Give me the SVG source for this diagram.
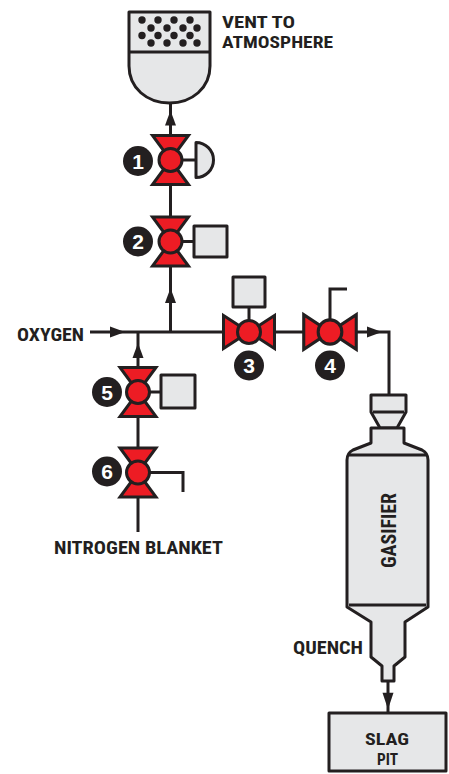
<svg xmlns="http://www.w3.org/2000/svg" xmlns:xlink="http://www.w3.org/1999/xlink" width="449" height="774" viewBox="0 0 449 774">
<style>
.pipe{fill:none;stroke:#231f20;stroke-width:3;stroke-linecap:butt;stroke-linejoin:miter}
.body{fill:#e6e7e8;stroke:#231f20;stroke-width:3;stroke-linejoin:round}
.red{fill:#ed1c24;stroke:#231f20;stroke-width:3;stroke-linejoin:miter}
.arr{fill:#231f20;stroke:none}
.lbl{font-family:"Liberation Sans Narrow","Roboto Condensed","DejaVu Sans Condensed","Liberation Sans",sans-serif;font-weight:bold;font-size:19px;fill:#231f20}
.stk{font-size:17px}
.badge{fill:#231f20}
.num{font-family:"Liberation Sans","DejaVu Sans",sans-serif;font-weight:bold;font-size:21px;fill:#ffffff;text-anchor:middle}
.dot{fill:#231f20}
</style>
<defs>
<g id="vvalve">
<path class="red" d="M-18,-24.5 H18 L0,0 Z"/>
<path class="red" d="M-18,24.5 H18 L0,0 Z"/>
<circle class="red" cx="0" cy="0" r="11.5"/>
</g>
<g id="hvalve">
<path class="red" d="M-25.5,-16.5 V16.5 L0,0 Z"/>
<path class="red" d="M25.5,-16.5 V16.5 L0,0 Z"/>
<circle class="red" cx="0" cy="0" r="11.5"/>
</g>
<path id="ah" d="M7.5,0 L-7.5,-5.5 L-7.5,5.5 Z"/>
</defs>
<rect width="449" height="774" fill="#ffffff"/>

<g id="connectors">
<path class="pipe" d="M170.5,103 V136"/>
<path class="pipe" d="M170.5,184 V218"/>
<path class="pipe" d="M170.5,265 V332"/>
<path class="pipe" d="M90,332 H224"/>
<path class="pipe" d="M274,332 H304"/>
<path class="pipe" d="M356,332 H389 V395"/>
<path class="pipe" d="M138,332 V368"/>
<path class="pipe" d="M138,416 V448"/>
<path class="pipe" d="M138,497 V532"/>
<path class="pipe" d="M388,681 V713"/>
<use xlink:href="#ah" class="arr" transform="translate(170.5,118) rotate(-90)"/>
<use xlink:href="#ah" class="arr" transform="translate(170.5,295.5) rotate(-90)"/>
<use xlink:href="#ah" class="arr" transform="translate(117.5,332)"/>
<use xlink:href="#ah" class="arr" transform="translate(138,350.5) rotate(-90)"/>
<use xlink:href="#ah" class="arr" transform="translate(374.5,332)"/>
<use xlink:href="#ah" class="arr" transform="translate(388,701) rotate(90) scale(1.1,1)"/>
</g>

<g id="vent">
<path class="body" d="M129,12 H210 V66 C210,88 192,103 169.5,103 C147,103 129,88 129,66 Z"/>
<path class="pipe" d="M129,52 H210"/>
<g class="dot">
<circle cx="142" cy="20" r="3.7"/><circle cx="158" cy="20" r="3.7"/><circle cx="174" cy="20" r="3.7"/><circle cx="190" cy="20" r="3.7"/>
<circle cx="151" cy="28" r="3.7"/><circle cx="167" cy="28" r="3.7"/><circle cx="183" cy="28" r="3.7"/><circle cx="197" cy="28" r="3.7"/>
<circle cx="142" cy="35.5" r="3.7"/><circle cx="158" cy="35.5" r="3.7"/><circle cx="174" cy="35.5" r="3.7"/><circle cx="190" cy="35.5" r="3.7"/>
<circle cx="151" cy="43" r="3.7"/><circle cx="167" cy="43" r="3.7"/><circle cx="183" cy="43" r="3.7"/><circle cx="197" cy="43" r="3.7"/>
</g>
<text class="lbl stk" x="222" y="28" textLength="73" lengthAdjust="spacingAndGlyphs">VENT TO</text>
<text class="lbl stk" x="222" y="48" textLength="111" lengthAdjust="spacingAndGlyphs">ATMOSPHERE</text>
</g>

<g id="valve1">
<path class="pipe" d="M182,160 H196"/>
<path class="body" d="M196,142.5 A17.5,17.5 0 0 1 196,177.5 Z"/>
<use xlink:href="#vvalve" transform="translate(170.5,160)"/>
<circle class="badge" cx="138" cy="161" r="15"/>
<text class="num" x="138" y="168.5">1</text>
</g>

<g id="valve2">
<path class="pipe" d="M182,241.5 H194"/>
<rect class="body" x="194" y="226" width="33" height="31" stroke-linejoin="miter"/>
<use xlink:href="#vvalve" transform="translate(170.5,241.5)"/>
<circle class="badge" cx="138" cy="241.5" r="15"/>
<text class="num" x="138" y="249">2</text>
</g>

<g id="valve3">
<path class="pipe" d="M249,307 V321"/>
<rect class="body" x="233" y="277" width="32" height="30" stroke-linejoin="miter"/>
<use xlink:href="#hvalve" transform="translate(249,332)"/>
<circle class="badge" cx="249" cy="365.5" r="15"/>
<text class="num" x="249" y="373">3</text>
</g>

<g id="valve4">
<path class="pipe" d="M330,321 V289 H347"/>
<use xlink:href="#hvalve" transform="translate(330,332) scale(1.03,1.05)"/>
<circle class="badge" cx="330" cy="365.5" r="15"/>
<text class="num" x="330" y="373">4</text>
</g>

<g id="oxygen">
<text class="lbl" x="17" y="341" textLength="67" lengthAdjust="spacingAndGlyphs">OXYGEN</text>
</g>

<g id="valve5">
<path class="pipe" d="M149,392 H161"/>
<rect class="body" x="161" y="375" width="34" height="33" stroke-linejoin="miter"/>
<use xlink:href="#vvalve" transform="translate(138,392)"/>
<circle class="badge" cx="107" cy="392" r="15"/>
<text class="num" x="107" y="399.5">5</text>
</g>

<g id="valve6">
<path class="pipe" d="M149,472.5 H183 V492"/>
<use xlink:href="#vvalve" transform="translate(138,472.5)"/>
<circle class="badge" cx="107" cy="471.5" r="15"/>
<text class="num" x="107" y="479">6</text>
</g>

<g id="nitrogen">
<text class="lbl" x="54" y="554" textLength="169" lengthAdjust="spacingAndGlyphs">NITROGEN BLANKET</text>
</g>

<g id="gasifier">
<path class="body" d="M371,395 H406 V412 L397,428 H380 L371,412 Z"/>
<path class="pipe" d="M373,412 H404" stroke-width="2"/>
<path class="body" d="M371,428 H404 V443 L422,450 Q428,453 428,460 V607 L405,622 V657 L394,666 V681 H382 V666 L371,657 V622 L347,607 V460 Q347,453 353,450 L371,443 Z"/>
<path class="pipe" d="M349,455 H426" stroke-width="2"/>
<path class="pipe" d="M349,605 H426" stroke-width="2"/>
<text class="lbl" transform="translate(395.5,530.5) rotate(-90)" text-anchor="middle" textLength="75" lengthAdjust="spacingAndGlyphs" style="font-size:20px">GASIFIER</text>
</g>

<g id="quench">
<text class="lbl" x="293" y="654" textLength="70" lengthAdjust="spacingAndGlyphs">QUENCH</text>
</g>

<g id="slagpit">
<rect class="body" x="329" y="713" width="117" height="58" stroke-linejoin="miter"/>
<text class="lbl stk" x="387" y="745" text-anchor="middle" textLength="44" lengthAdjust="spacingAndGlyphs">SLAG</text>
<text class="lbl stk" x="387.5" y="765" text-anchor="middle" textLength="21" lengthAdjust="spacingAndGlyphs">PIT</text>
</g>
</svg>
